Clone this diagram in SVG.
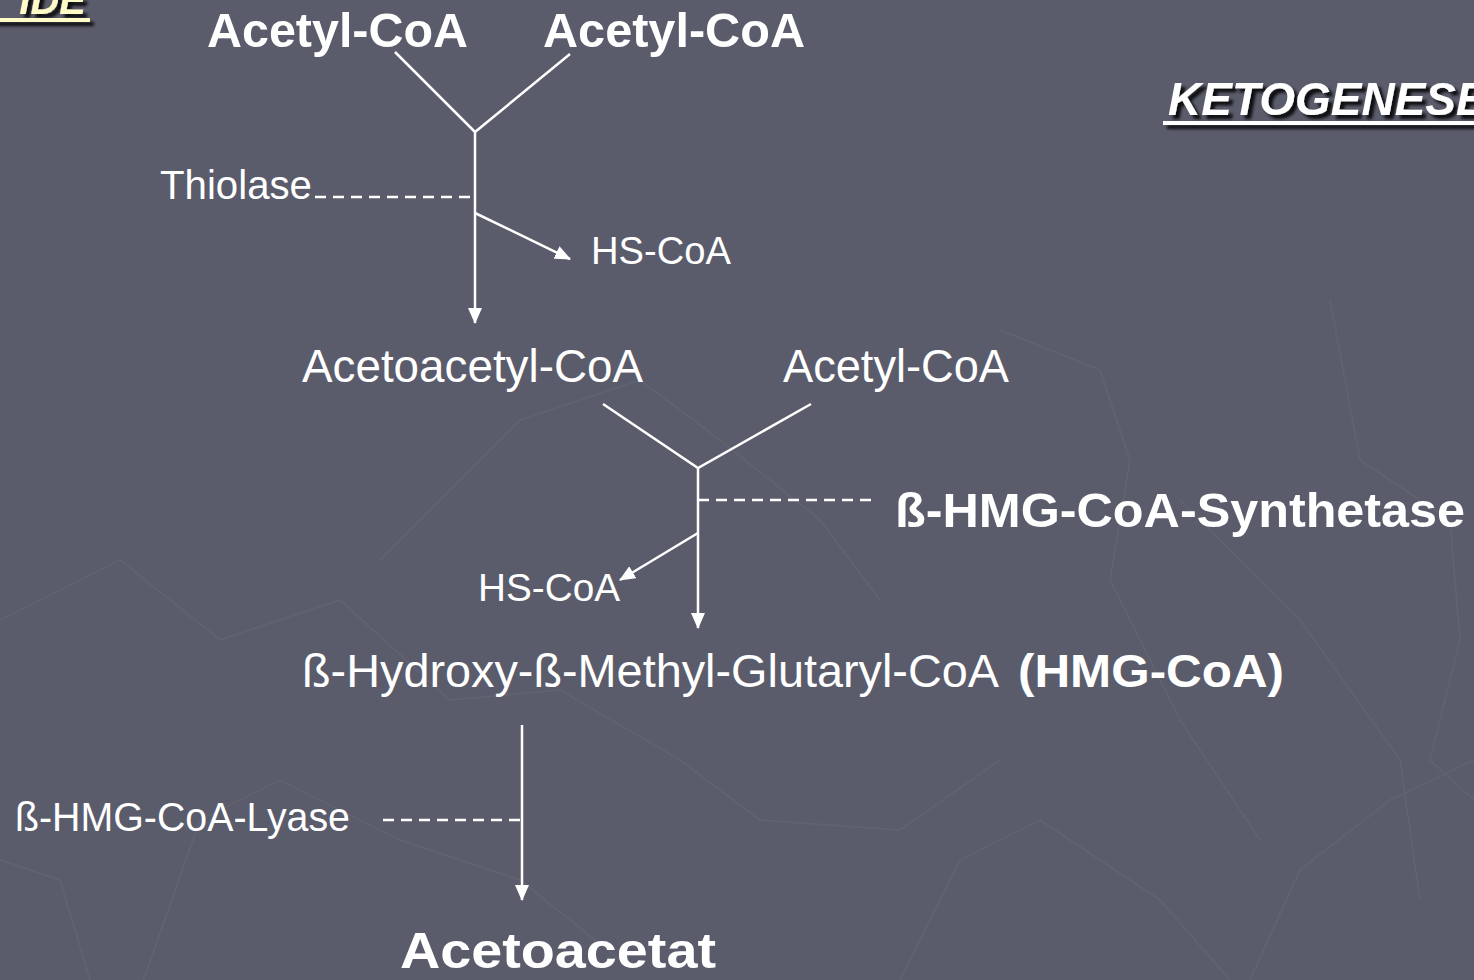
<svg xmlns="http://www.w3.org/2000/svg" width="1474" height="980" viewBox="0 0 1474 980">
  <defs>
    <style>
      .reg { font-family: "Liberation Sans", Arial, sans-serif; fill: #ffffff; }
      .bold { font-family: "Liberation Sans", Arial, sans-serif; font-weight: bold; fill: #ffffff; }
      .title { font-family: "Liberation Sans", Arial, sans-serif; font-weight: bold; font-style: italic; }
      .line { stroke: #ffffff; stroke-width: 2.5; fill: none; }
      .dash { stroke: #ffffff; stroke-width: 2.5; fill: none; stroke-dasharray: 11 7; }
      .tex { stroke: #656776; stroke-width: 2; fill: none; opacity: 0.5; }
    </style>
    <marker id="arrow" viewBox="0 0 16 14" refX="15" refY="7" markerWidth="16" markerHeight="14" markerUnits="userSpaceOnUse" orient="auto">
      <path d="M0,0 L16,7 L0,14 z" fill="#ffffff"/>
    </marker>
    <filter id="shadow" x="-10%" y="-30%" width="130%" height="180%">
      <feGaussianBlur in="SourceAlpha" stdDeviation="1.5" result="b"/>
      <feOffset in="b" dx="4" dy="4" result="o"/>
      <feComponentTransfer in="o" result="s"><feFuncA type="linear" slope="0.85"/></feComponentTransfer>
      <feMerge><feMergeNode in="s"/><feMergeNode in="SourceGraphic"/></feMerge>
    </filter>
  </defs>

  <!-- slate background with faint map texture -->
  <rect width="1474" height="980" fill="#5a5c6b"/>
  <g id="texture">
    <polyline class="tex" points="0,620 120,560 220,640 340,600 450,700 560,690 680,760 760,820 900,830 1000,760"/>
    <polyline class="tex" points="140,990 200,820 280,780 400,840 520,880 620,960"/>
    <polyline class="tex" points="380,560 520,420 640,380 720,440 820,520 880,600"/>
    <polyline class="tex" points="1000,330 1100,370 1130,460 1110,580 1180,720 1260,840"/>
    <polyline class="tex" points="1330,300 1360,460 1450,520 1460,640 1430,760 1474,800"/>
    <polyline class="tex" points="1180,500 1300,620 1400,760 1420,900"/>
    <polyline class="tex" points="900,980 960,860 1040,820 1160,900 1230,980"/>
    <polyline class="tex" points="0,860 60,880 90,980"/>
    <polyline class="tex" points="1250,980 1300,870 1390,800 1474,760"/>
  </g>

  <!-- slide corner heading -->
  <g id="corner-title" filter="url(#shadow)">
    <text class="title" x="86" y="14" font-size="40" fill="#fffcc8" text-anchor="end">IDE</text>
    <rect x="-10" y="18" width="100" height="4" fill="#fffcc8"/>
  </g>

  <g id="heading" filter="url(#shadow)">
    <text class="title" x="1168" y="115" font-size="46" fill="#ffffff">KETOGENESE</text>
    <rect x="1163" y="121" width="320" height="4" fill="#ffffff"/>
  </g>

  <!-- metabolites and enzymes -->
  <g id="acetyl-coa-1"><text class="bold" x="207" y="47" font-size="48" textLength="261" lengthAdjust="spacingAndGlyphs">Acetyl-CoA</text></g>
  <g id="acetyl-coa-2"><text class="bold" x="543" y="47" font-size="48" textLength="262" lengthAdjust="spacingAndGlyphs">Acetyl-CoA</text></g>
  <g id="thiolase"><text class="reg" x="160" y="199" font-size="41" textLength="152" lengthAdjust="spacingAndGlyphs">Thiolase</text></g>
  <g id="hs-coa-1"><text class="reg" x="591" y="264" font-size="39" textLength="140" lengthAdjust="spacingAndGlyphs">HS-CoA</text></g>
  <g id="acetoacetyl-coa"><text class="reg" x="302" y="382" font-size="46" textLength="341" lengthAdjust="spacingAndGlyphs">Acetoacetyl-CoA</text></g>
  <g id="acetyl-coa-3"><text class="reg" x="783" y="382" font-size="46" textLength="226" lengthAdjust="spacingAndGlyphs">Acetyl-CoA</text></g>
  <g id="hmg-synthetase"><text class="bold" x="895" y="527" font-size="48" textLength="570" lengthAdjust="spacingAndGlyphs">ß-HMG-CoA-Synthetase</text></g>
  <g id="hs-coa-2"><text class="reg" x="478" y="601" font-size="39" textLength="142" lengthAdjust="spacingAndGlyphs">HS-CoA</text></g>
  <g id="hmg-coa">
    <text class="reg" x="302" y="687" font-size="47" textLength="697" lengthAdjust="spacingAndGlyphs">ß-Hydroxy-ß-Methyl-Glutaryl-CoA</text>
    <text class="bold" x="1018" y="687" font-size="46" textLength="266" lengthAdjust="spacingAndGlyphs">(HMG-CoA)</text>
  </g>
  <g id="hmg-lyase"><text class="reg" x="15" y="831" font-size="41" textLength="335" lengthAdjust="spacingAndGlyphs">ß-HMG-CoA-Lyase</text></g>
  <g id="acetoacetat"><text class="bold" x="400" y="968" font-size="50" textLength="316" lengthAdjust="spacingAndGlyphs">Acetoacetat</text></g>

  <!-- reaction connectors -->
  <g id="connectors">
    <polyline class="line" points="395,52 475,132 570,54"/>
    <line class="line" x1="475" y1="132" x2="475" y2="323" marker-end="url(#arrow)"/>
    <line class="dash" x1="315" y1="197" x2="475" y2="197"/>
    <line class="line" x1="475" y1="213" x2="570" y2="259" marker-end="url(#arrow)"/>

    <polyline class="line" points="603,404 698,468 811,404"/>
    <line class="line" x1="698" y1="468" x2="698" y2="628" marker-end="url(#arrow)"/>
    <line class="dash" x1="698" y1="500" x2="878" y2="500"/>
    <line class="line" x1="698" y1="533" x2="620" y2="580" marker-end="url(#arrow)"/>

    <line class="line" x1="522" y1="725" x2="522" y2="900" marker-end="url(#arrow)"/>
    <line class="dash" x1="383" y1="820" x2="522" y2="820"/>
  </g>
</svg>
